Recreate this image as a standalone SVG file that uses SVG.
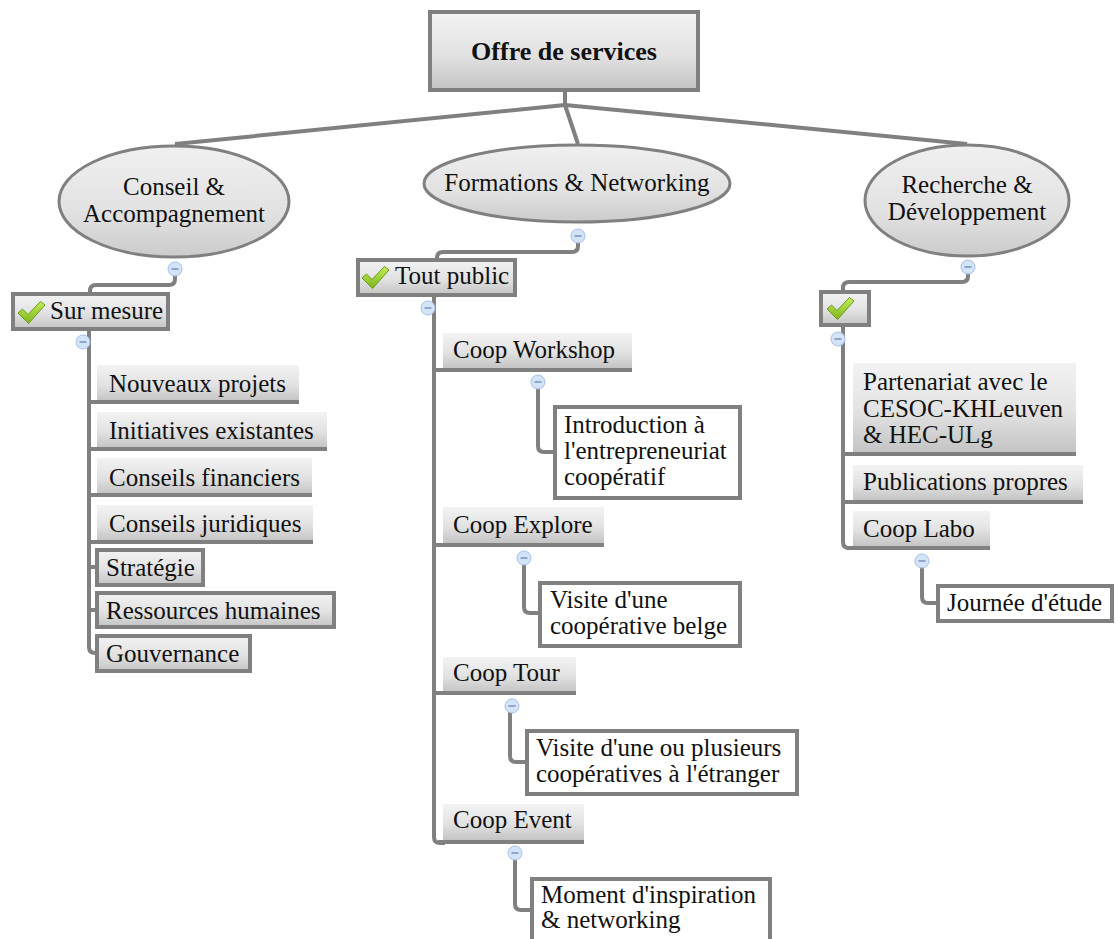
<svg xmlns="http://www.w3.org/2000/svg" width="1115" height="939" viewBox="0 0 1115 939">
  <defs>
    <linearGradient id="gFill" x1="0" y1="0" x2="0" y2="1">
      <stop offset="0" stop-color="#f3f3f3"/>
      <stop offset="0.55" stop-color="#e2e2e2"/>
      <stop offset="1" stop-color="#c4c4c4"/>
    </linearGradient>
    <linearGradient id="gEllipse" x1="0" y1="0" x2="0" y2="1">
      <stop offset="0" stop-color="#f0f0f0"/>
      <stop offset="0.6" stop-color="#e2e2e2"/>
      <stop offset="1" stop-color="#cbcbcb"/>
    </linearGradient>
    <linearGradient id="gCheck" x1="0" y1="0" x2="0" y2="1">
      <stop offset="0" stop-color="#c6ee5a"/>
      <stop offset="1" stop-color="#7cb519"/>
    </linearGradient>
    <g id="check">
      <path d="M0,12 L4.5,8 L10,13.5 L22.5,0.5 L27,4 L10.5,22.5 Z" fill="url(#gCheck)" stroke="#6d9a1c" stroke-width="1" stroke-linejoin="round"/>
    </g>
    <g id="minus">
      <circle cx="0" cy="0" r="7" fill="#d3e3f8" stroke="#a7c0e6" stroke-width="1"/>
      <line x1="-3.5" y1="0" x2="3.5" y2="0" stroke="#6b86b6" stroke-width="1.3"/>
    </g>
  </defs>
  <style>
    text { font-family: "Liberation Serif", "Times New Roman", serif; font-size: 25px; fill: #111; }
    .root { font-weight: bold; font-size: 26px; }
    .mid { text-anchor: middle; }
    .frame { fill: url(#gFill); stroke: #808080; stroke-width: 4; }
    .plain { fill: #ffffff; stroke: #808080; stroke-width: 4; }
    .shade { fill: url(#gFill); }
    .oval { fill: url(#gEllipse); stroke: #808080; stroke-width: 3; }
    .under { stroke: #808080; stroke-width: 4; fill: none; }
    .wire { stroke: #808080; stroke-width: 4; fill: none; stroke-linejoin: round; }
  </style>

  <rect width="1115" height="939" fill="#ffffff"/>

  <!-- connectors -->
  <g id="connectors">
    <path class="wire" d="M565,92 V105 L175,144"/>
    <path class="wire" d="M565,105 L578,144"/>
    <path class="wire" d="M565,105 L967,144"/>
    <!-- Conseil & Accompagnement -> Sur mesure -->
    <path class="wire" d="M175,275 V279 Q175,285 169,285 H96 Q90,285 90,291 V294"/>
    <path class="wire" d="M89,331 V647 Q89,653 95,653 H97"/>
    <path class="wire" d="M89,567 H97 M89,610 H97"/>
    <!-- Formations & Networking -> Tout public -->
    <path class="wire" d="M578,242 V246 Q578,252 572,252 H443 Q437,252 437,258 V260"/>
    <path class="wire" d="M434,297 V837 Q434,843 440,843 H445"/>
    <path class="wire" d="M538,388 V446 Q538,452 544,452 H555"/>
    <path class="wire" d="M524,564 V607 Q524,613 530,613 H540"/>
    <path class="wire" d="M510,712 V756 Q510,762 516,762 H527"/>
    <path class="wire" d="M515,859 V904 Q515,910 521,910 H532"/>
    <!-- Recherche & Développement -> check -->
    <path class="wire" d="M968,273 V276 Q968,282 962,282 H849 Q843,282 843,288 V292"/>
    <path class="wire" d="M843,327 V542 Q843,548 849,548 H855"/>
    <path class="wire" d="M922,567 V597 Q922,603 928,603 H938"/>
  </g>

  <!-- root -->
  <g id="root">
    <rect class="frame" x="430" y="12" width="268" height="78"/>
    <text class="root mid" x="564" y="60">Offre de services</text>
  </g>

  <!-- main branches -->
  <g id="conseil">
    <ellipse class="oval" cx="174" cy="201.5" rx="115" ry="55.5"/>
    <text class="mid" x="174" y="195">Conseil &amp;</text>
    <text class="mid" x="174" y="222">Accompagnement</text>
    <use href="#minus" x="175" y="269"/>
  </g>
  <g id="formations">
    <ellipse class="oval" cx="577" cy="183.5" rx="153" ry="38.5"/>
    <text class="mid" x="577" y="191">Formations &amp; Networking</text>
    <use href="#minus" x="578" y="236"/>
  </g>
  <g id="recherche">
    <ellipse class="oval" cx="967" cy="200.5" rx="102" ry="55.5"/>
    <text class="mid" x="967" y="193">Recherche &amp;</text>
    <text class="mid" x="967" y="220">Développement</text>
    <use href="#minus" x="968" y="267"/>
  </g>

  <!-- Conseil & Accompagnement children -->
  <g id="sur-mesure">
    <rect class="frame" x="13" y="294" width="155" height="35"/>
    <use href="#check" x="18" y="301"/>
    <text x="50" y="319">Sur mesure</text>
    <use href="#minus" x="83" y="342"/>
  </g>
  <g id="nouveaux-projets">
    <rect class="shade" x="97" y="365" width="202" height="36"/>
    <line class="under" x1="87" y1="402" x2="299" y2="402"/>
    <text x="109" y="392">Nouveaux projets</text>
  </g>
  <g id="initiatives-existantes">
    <rect class="shade" x="97" y="412" width="230" height="36"/>
    <line class="under" x1="87" y1="449" x2="327" y2="449"/>
    <text x="109" y="439">Initiatives existantes</text>
  </g>
  <g id="conseils-financiers">
    <rect class="shade" x="97" y="458" width="215" height="36"/>
    <line class="under" x1="87" y1="495" x2="312" y2="495"/>
    <text x="109" y="486">Conseils financiers</text>
  </g>
  <g id="conseils-juridiques">
    <rect class="shade" x="97" y="505" width="216" height="36"/>
    <line class="under" x1="87" y1="542" x2="313" y2="542"/>
    <text x="109" y="532">Conseils juridiques</text>
  </g>
  <g id="strategie">
    <rect class="frame" x="97" y="550" width="106" height="35"/>
    <text x="106" y="576">Stratégie</text>
  </g>
  <g id="ressources-humaines">
    <rect class="frame" x="97" y="593" width="237" height="34"/>
    <text x="106" y="619">Ressources humaines</text>
  </g>
  <g id="gouvernance">
    <rect class="frame" x="97" y="636" width="153" height="35"/>
    <text x="106" y="662">Gouvernance</text>
  </g>

  <!-- Formations & Networking children -->
  <g id="tout-public">
    <rect class="frame" x="358" y="260" width="157" height="35"/>
    <use href="#check" x="362" y="266"/>
    <text x="395" y="284">Tout public</text>
    <use href="#minus" x="428" y="308"/>
  </g>
  <g id="coop-workshop">
    <rect class="shade" x="443" y="333" width="189" height="35"/>
    <line class="under" x1="432" y1="370" x2="632" y2="370"/>
    <text x="453" y="358">Coop Workshop</text>
    <use href="#minus" x="538" y="382"/>
  </g>
  <g id="introduction">
    <rect class="plain" x="555" y="407" width="185" height="91"/>
    <text x="564" y="433">Introduction à</text>
    <text x="564" y="459">l'entrepreneuriat</text>
    <text x="564" y="485">coopératif</text>
  </g>
  <g id="coop-explore">
    <rect class="shade" x="443" y="507" width="161" height="36"/>
    <line class="under" x1="432" y1="545" x2="604" y2="545"/>
    <text x="453" y="533">Coop Explore</text>
    <use href="#minus" x="524" y="558"/>
  </g>
  <g id="visite-belge">
    <rect class="plain" x="540" y="583" width="200" height="63"/>
    <text x="550" y="608">Visite d'une</text>
    <text x="550" y="634">coopérative belge</text>
  </g>
  <g id="coop-tour">
    <rect class="shade" x="443" y="657" width="133" height="35"/>
    <line class="under" x1="432" y1="693" x2="576" y2="693"/>
    <text x="453" y="681">Coop Tour</text>
    <use href="#minus" x="512" y="706"/>
  </g>
  <g id="visite-etranger">
    <rect class="plain" x="527" y="731" width="270" height="63"/>
    <text x="536" y="756">Visite d'une ou plusieurs</text>
    <text x="536" y="782">coopératives à l'étranger</text>
  </g>
  <g id="coop-event">
    <rect class="shade" x="443" y="804" width="141" height="36"/>
    <line class="under" x1="438" y1="842" x2="584" y2="842"/>
    <text x="453" y="828">Coop Event</text>
    <use href="#minus" x="515" y="853"/>
  </g>
  <g id="moment-inspiration">
    <rect class="plain" x="532" y="879" width="238" height="80"/>
    <text x="541" y="903">Moment d'inspiration</text>
    <text x="541" y="928">&amp; networking</text>
  </g>

  <!-- Recherche & Développement children -->
  <g id="check-node">
    <rect class="frame" x="821" y="292" width="48" height="33"/>
    <use href="#check" x="827" y="297"/>
    <use href="#minus" x="838" y="339"/>
  </g>
  <g id="partenariat">
    <rect class="shade" x="853" y="363" width="223" height="89"/>
    <line class="under" x1="841" y1="454" x2="1076" y2="454"/>
    <text x="863" y="390">Partenariat avec le</text>
    <text x="863" y="417">CESOC-KHLeuven</text>
    <text x="863" y="443">&amp; HEC-ULg</text>
  </g>
  <g id="publications-propres">
    <rect class="shade" x="853" y="465" width="230" height="35"/>
    <line class="under" x1="841" y1="502" x2="1083" y2="502"/>
    <text x="863" y="490">Publications propres</text>
  </g>
  <g id="coop-labo">
    <rect class="shade" x="853" y="511" width="137" height="35"/>
    <line class="under" x1="847" y1="548" x2="990" y2="548"/>
    <text x="863" y="537">Coop Labo</text>
    <use href="#minus" x="922" y="561"/>
  </g>
  <g id="journee-etude">
    <rect class="plain" x="938" y="586" width="174" height="35"/>
    <text x="947" y="611">Journée d'étude</text>
  </g>
</svg>
